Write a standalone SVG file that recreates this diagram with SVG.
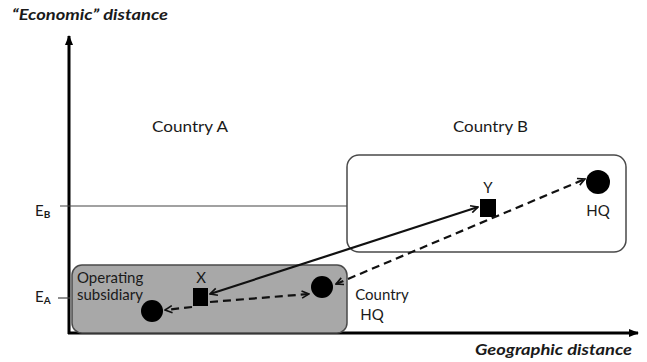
<svg xmlns="http://www.w3.org/2000/svg" width="647" height="362" viewBox="0 0 647 362">
<style>
text{font-family:Lato,"Liberation Sans",sans-serif;fill:#1a1a1a}
.lbl{font-size:15px}
.ax{font-size:15px;font-weight:bold;font-style:italic}
.conn{fill:none;stroke:#111;stroke-width:2.2}
.dash{stroke-dasharray:8,5}
.node{fill:#000}
</style>
<defs>
<marker id="ah" viewBox="0 0 10 10" refX="9" refY="5" markerWidth="9" markerHeight="9" markerUnits="userSpaceOnUse" orient="auto-start-reverse">
<path d="M1,1 L9,5 L1,9" fill="none" stroke="#111" stroke-width="1.8"/>
</marker>
<marker id="axh" viewBox="0 0 10 10" refX="9" refY="5" markerWidth="10" markerHeight="10" markerUnits="userSpaceOnUse" orient="auto">
<path d="M0,1 L10,5 L0,9 Z" fill="#000"/>
</marker>
</defs>
<rect width="647" height="362" fill="#fff"/>
<g id="axes">
<line x1="69" y1="334" x2="69" y2="36" stroke="#000" stroke-width="3" marker-end="url(#axh)"/>
<line x1="68" y1="333" x2="638" y2="333" stroke="#000" stroke-width="3" marker-end="url(#axh)"/>
<text class="ax" x="12" y="20" textLength="156" lengthAdjust="spacingAndGlyphs">“Economic” distance</text>
<text class="ax" x="475" y="355" textLength="157" lengthAdjust="spacingAndGlyphs">Geographic distance</text>
<line x1="60" y1="206" x2="348" y2="206" stroke="#444" stroke-width="1.2"/>
<line x1="58" y1="298" x2="70" y2="298" stroke="#444" stroke-width="1.2"/>
<text class="lbl" x="35" y="216">E<tspan font-size="10" font-weight="bold" dy="2">B</tspan></text>
<text class="lbl" x="35" y="302">E<tspan font-size="10" font-weight="bold" dy="2">A</tspan></text>
</g>
<g id="countryA">
<rect x="72" y="265" width="275" height="68" rx="10" fill="#a8a8a8" stroke="#4a4a4a" stroke-width="1.5"/>
<text class="lbl" x="152" y="132" textLength="76" lengthAdjust="spacingAndGlyphs">Country A</text>
</g>
<g id="countryB">
<rect x="347" y="155" width="279" height="97" rx="12" fill="#fff" stroke="#4a4a4a" stroke-width="1.5"/>
<text class="lbl" x="453" y="132" textLength="75" lengthAdjust="spacingAndGlyphs">Country B</text>
</g>
<g id="subsidiary">
<circle class="node" cx="152" cy="311" r="11"/>
<text class="lbl" x="77" y="283" font-size="13.5">Operating</text>
<text class="lbl" x="77" y="300" font-size="13.5">subsidiary</text>
</g>
<g id="X">
<rect class="node" x="193" y="288" width="15" height="18"/>
<text class="lbl" x="201" y="283" text-anchor="middle">X</text>
</g>
<g id="countryHQ">
<circle class="node" cx="322" cy="287" r="11"/>
<text class="lbl" x="382" y="300" text-anchor="middle">Country</text>
<text class="lbl" x="372" y="320" text-anchor="middle">HQ</text>
</g>
<g id="Y">
<rect class="node" x="480" y="199" width="16" height="18"/>
<text class="lbl" x="488" y="193" text-anchor="middle">Y</text>
</g>
<g id="HQ">
<circle class="node" cx="598" cy="182" r="12"/>
<text class="lbl" x="598" y="216" text-anchor="middle">HQ</text>
</g>
<g id="connectors">
<line class="conn" x1="210" y1="294" x2="478" y2="207" marker-start="url(#ah)" marker-end="url(#ah)"/>
<line class="conn dash" x1="210" y1="302" x2="309" y2="294" marker-end="url(#ah)"/>
<line class="conn dash" x1="192" y1="307" x2="165" y2="310" marker-end="url(#ah)"/>
<line class="conn dash" x1="336" y1="284" x2="585" y2="179" marker-start="url(#ah)" marker-end="url(#ah)"/>
</g>
</svg>
